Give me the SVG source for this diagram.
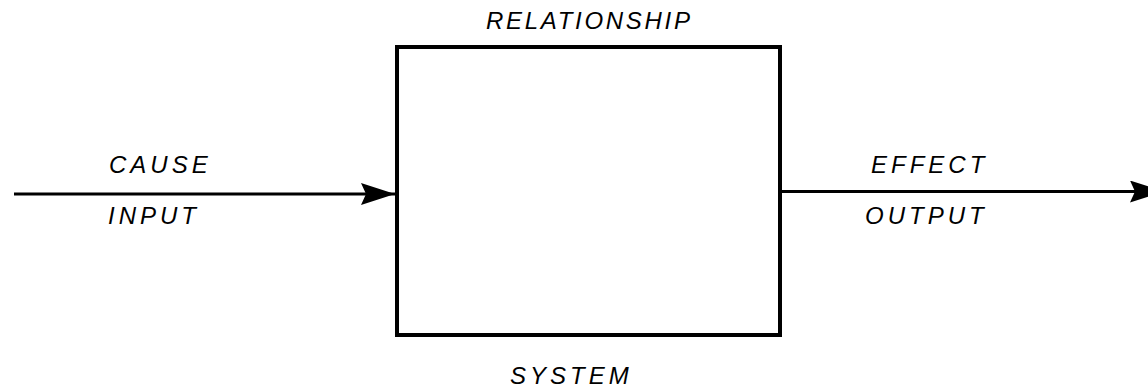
<svg xmlns="http://www.w3.org/2000/svg" width="1148" height="391" viewBox="0 0 1148 391">
  <style>
    .lbl { font-family: "Liberation Sans", Arial, sans-serif; font-style: italic; font-size: 24px; letter-spacing: 4px; fill: #000; }
    .tight { letter-spacing: 2.7px; }
    .edge { stroke: #000; stroke-width: 3; fill: none; }
    .box { stroke: #000; stroke-width: 4; fill: #fff; }
  </style>
  <defs>
    <marker id="arrow" markerUnits="userSpaceOnUse" markerWidth="36" markerHeight="24" refX="34" refY="11" orient="auto">
      <path d="M0,0 L34,11 L0,22 L5,11 Z" fill="#000"/>
    </marker>
  </defs>
  <rect width="1148" height="391" fill="#fff"/>

  <g id="connectors">
    <line class="edge" x1="14" y1="194" x2="395" y2="194" marker-end="url(#arrow)"/>
    <line class="edge" x1="780" y1="191.5" x2="1164" y2="191.5" marker-end="url(#arrow)"/>
  </g>

  <g id="system">
    <rect class="box" x="397" y="47" width="383" height="288"/>
    <text class="lbl tight" x="486" y="29">RELATIONSHIP</text>
    <text class="lbl" x="510" y="384">SYSTEM</text>
  </g>

  <g id="input">
    <text class="lbl" x="109" y="173">CAUSE</text>
    <text class="lbl" x="108" y="224">INPUT</text>
  </g>

  <g id="output">
    <text class="lbl" x="871" y="173">EFFECT</text>
    <text class="lbl" x="865" y="224">OUTPUT</text>
  </g>
</svg>
